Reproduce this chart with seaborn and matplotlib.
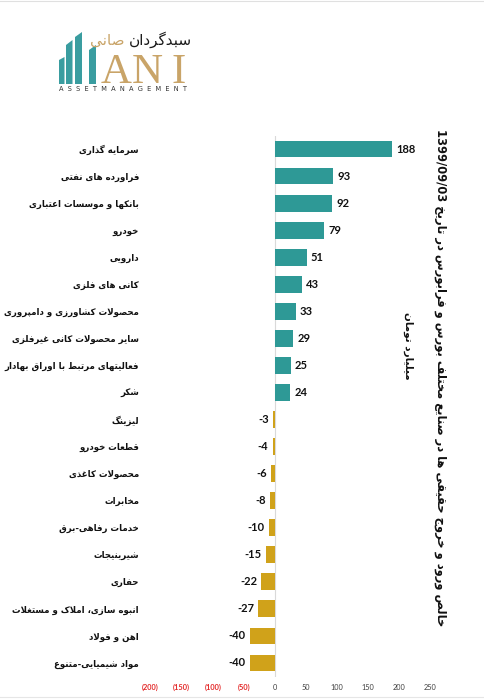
import re
import numpy as np
import pandas as pd
import matplotlib
matplotlib.use("Agg")
import matplotlib.pyplot as plt
import seaborn as sns
from matplotlib.patches import Polygon

# ---------------- data ----------------
categories = [
    "سرمایه گذاری", "فراورده های نفتی", "بانکها و موسسات اعتباری", "خودرو",
    "دارویی", "کانی های فلزی", "محصولات کشاورزی و دامپروری",
    "سایر محصولات کانی غیرفلزی", "فعالیتهای مرتبط با اوراق بهادار", "شکر",
    "لیزینگ", "قطعات خودرو", "محصولات کاغذی", "مخابرات", "خدمات رفاهی-برق",
    "شیرینیجات", "حفاری", "انبوه سازی، املاک و مستغلات", "اهن و فولاد",
    "مواد شیمیایی-متنوع",
]
values = [188, 93, 92, 79, 51, 43, 33, 29, 25, 24,
          -3, -4, -6, -8, -10, -15, -22, -27, -40, -40]
tick_values = [-200, -150, -100, -50, 0, 50, 100, 150, 200, 250]
tick_labels = ["(200)", "(150)", "(100)", "(50)", "0", "50", "100", "150", "200", "250"]
title_text = "خالص ورود و خروج حقیقی ها در صنایع مختلف بورس و فرابورس در تاریخ 1399/09/03"
unit_text = "میلیارد تومان"
logo_fa_black = "سبدگردان"
logo_fa_gold = "صانی"
logo_en = "ASSETMANAGEMENT"

# ---------------- simple Persian shaping ----------------
FORMS = {  # isolated, final, initial, medial
    'ا': (0xFE8D, 0xFE8E), 'آ': (0xFE81, 0xFE82), 'د': (0xFEA9, 0xFEAA),
    'ذ': (0xFEAB, 0xFEAC), 'ر': (0xFEAD, 0xFEAE), 'ز': (0xFEAF, 0xFEB0),
    'ژ': (0xFB8A, 0xFB8B), 'و': (0xFEED, 0xFEEE),
    'ب': (0xFE8F, 0xFE90, 0xFE91, 0xFE92), 'پ': (0xFB56, 0xFB57, 0xFB58, 0xFB59),
    'ت': (0xFE95, 0xFE96, 0xFE97, 0xFE98), 'ث': (0xFE99, 0xFE9A, 0xFE9B, 0xFE9C),
    'ج': (0xFE9D, 0xFE9E, 0xFE9F, 0xFEA0), 'چ': (0xFB7A, 0xFB7B, 0xFB7C, 0xFB7D),
    'ح': (0xFEA1, 0xFEA2, 0xFEA3, 0xFEA4), 'خ': (0xFEA5, 0xFEA6, 0xFEA7, 0xFEA8),
    'س': (0xFEB1, 0xFEB2, 0xFEB3, 0xFEB4), 'ش': (0xFEB5, 0xFEB6, 0xFEB7, 0xFEB8),
    'ص': (0xFEB9, 0xFEBA, 0xFEBB, 0xFEBC), 'ض': (0xFEBD, 0xFEBE, 0xFEBF, 0xFEC0),
    'ط': (0xFEC1, 0xFEC2, 0xFEC3, 0xFEC4), 'ظ': (0xFEC5, 0xFEC6, 0xFEC7, 0xFEC8),
    'ع': (0xFEC9, 0xFECA, 0xFECB, 0xFECC), 'غ': (0xFECD, 0xFECE, 0xFECF, 0xFED0),
    'ف': (0xFED1, 0xFED2, 0xFED3, 0xFED4), 'ق': (0xFED5, 0xFED6, 0xFED7, 0xFED8),
    'ک': (0xFB8E, 0xFB8F, 0xFB90, 0xFB91), 'گ': (0xFB92, 0xFB93, 0xFB94, 0xFB95),
    'ل': (0xFEDD, 0xFEDE, 0xFEDF, 0xFEE0), 'م': (0xFEE1, 0xFEE2, 0xFEE3, 0xFEE4),
    'ن': (0xFEE5, 0xFEE6, 0xFEE7, 0xFEE8), 'ه': (0xFEE9, 0xFEEA, 0xFEEB, 0xFEEC),
    'ی': (0xFBFC, 0xFBFD, 0xFBFE, 0xFBFF), 'ئ': (0xFE89, 0xFE8A, 0xFE8B, 0xFE8C),
}


def is_dual(c):
    return c in FORMS and len(FORMS[c]) == 4


def joins(c):
    return c in FORMS


def shape(text):
    chars = list(text)
    out = []
    i = 0
    n = len(chars)
    while i < n:
        c = chars[i]
        prev = chars[i - 1] if i > 0 else None
        cp = prev is not None and is_dual(prev) and joins(c)
        if c == 'ل' and i + 1 < n and chars[i + 1] == 'ا':
            out.append(chr(0xFEFC if cp else 0xFEFB))
            i += 2
            continue
        if c not in FORMS:
            out.append(c)
            i += 1
            continue
        nxt = chars[i + 1] if i + 1 < n else None
        cn = is_dual(c) and nxt is not None and joins(nxt)
        f = FORMS[c]
        if cp and cn:
            g = f[3]
        elif cn:
            g = f[2]
        elif cp:
            g = f[1]
        else:
            g = f[0]
        out.append(chr(g))
        i += 1
    vis = "".join(out)[::-1]
    vis = re.sub(r"[0-9A-Za-z/.]+", lambda m: m.group(0)[::-1], vis)
    return vis


# ---------------- figure ----------------
W, H = 485, 699
fig = plt.figure(figsize=(W / 100, H / 100), dpi=100)
fig.patch.set_facecolor("white")

def fx(px):
    return px / W

def fy(py):
    return 1 - py / H

TEAL = "#2E9996"
GOLD = "#D0A21A"
AR_FONT = ["DejaVu Sans"]

ax_left, ax_right, ax_top, ax_bot = 145, 440, 135.5, 676.5
ax = fig.add_axes([fx(ax_left), fy(ax_bot), (ax_right - ax_left) / W, (ax_bot - ax_top) / H])

labels = [shape(c) for c in categories]
df = pd.DataFrame({"label": labels, "value": values})
colors = [TEAL if v >= 0 else GOLD for v in values]
sns.barplot(data=df, x="value", y="label", hue="label", palette=colors,
            legend=False, orient="h", width=0.62, ax=ax, saturation=1)

px_per_unit = 0.622
ax.set_xlim((ax_left - 275) / px_per_unit, (ax_right - 275) / px_per_unit)
ax.set_ylim(len(values) - 0.5, -0.5)
ax.axvline(0, color="#D9D9D9", lw=0.8, zorder=0)

for s in ax.spines.values():
    s.set_visible(False)
ax.set_xlabel("")
ax.set_ylabel("")
ax.tick_params(axis="both", length=0)
ax.tick_params(axis="y", pad=4.3)
ax.tick_params(axis="x", pad=5.5)
ax.set_yticks(range(len(labels)))
ax.set_yticklabels(labels, fontsize=6.2, fontweight="bold", family=AR_FONT, color="#111111")
ax.set_xticks(tick_values)
ax.set_xticklabels(tick_labels, fontsize=5.3, family=["Lato", "DejaVu Sans"])
for t, v in zip(ax.get_xticklabels(), tick_values):
    if v < 0:
        t.set_color("#E32626")
        t.set_fontweight("bold")
    else:
        t.set_color("#404040")

for i, v in enumerate(values):
    if v >= 0:
        ax.annotate(f"{v}", (v, i), xytext=(3, 0), textcoords="offset points",
                    ha="left", va="center", fontsize=8, fontweight="bold",
                    family=["Lato", "DejaVu Sans"], color="#111111")
    else:
        ax.annotate(f"{v}", (v, i), xytext=(-3, 0), textcoords="offset points",
                    ha="right", va="center", fontsize=8, fontweight="bold",
                    family=["Lato", "DejaVu Sans"], color="#111111")

# vertical title and unit label
fig.text(fx(440), fy(378), shape(title_text), rotation=270, ha="center", va="center",
         fontsize=8.3, fontweight="bold", family=AR_FONT, color="#111111")
fig.text(fx(408), fy(346), shape(unit_text), rotation=270, ha="center", va="center",
         fontsize=7.5, fontweight="bold", family=AR_FONT, color="#111111")

# ---------------- logo ----------------
LOGO_TEAL = "#3A9DA0"
LOGO_GOLD = "#C9A468"
bars = [(59, 64.5, 60, 57), (66, 72.5, 45, 40), (75, 82, 37, 32), (89, 96, 50, 45)]
for x0, x1, tl, tr in bars:
    poly = Polygon([(fx(x0), fy(84)), (fx(x1), fy(84)), (fx(x1), fy(tr)), (fx(x0), fy(tl))],
                   closed=True, transform=fig.transFigure, facecolor=LOGO_TEAL, edgecolor="none")
    fig.patches.append(poly)
for ch, cx in zip("ANI", [116, 147, 179]):
    fig.text(fx(cx), fy(83), ch, ha="center", va="baseline", fontsize=31,
             family=["Liberation Serif", "DejaVu Serif"], color=LOGO_GOLD)
fig.text(fx(192), fy(40), shape(logo_fa_black), ha="right", va="center", fontsize=11,
         family=AR_FONT, color="#1A1A1A")
fig.text(fx(90), fy(40), shape(logo_fa_gold), ha="left", va="center", fontsize=11,
         family=AR_FONT, color=LOGO_GOLD)
fig.text(fx(123.5), fy(89), "  ".join(logo_en), ha="center", va="center", fontsize=4.8,
         family=["DejaVu Sans"], color="#333333")

# faint frame lines
fig.add_artist(plt.Line2D([0, 1], [fy(1), fy(1)], transform=fig.transFigure, color="#E0E0E0", lw=0.8))
fig.add_artist(plt.Line2D([0, 1], [fy(697), fy(697)], transform=fig.transFigure, color="#E6E6E6", lw=0.8))

fig.savefig("out.png", dpi=100, facecolor="white")
